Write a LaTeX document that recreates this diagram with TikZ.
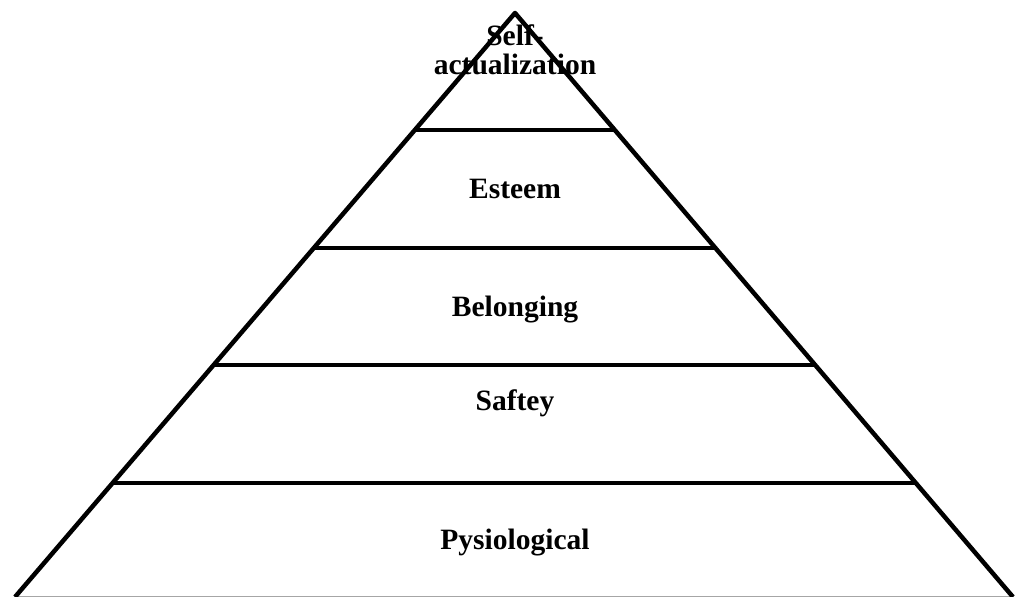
\documentclass[tikz,border=0pt]{standalone}
\usepackage{fontspec}
\setmainfont{Liberation Serif}
\usetikzlibrary{calc,positioning}
\tikzset{
  side/.style={line width=3.2pt, line join=round},
  tier/.style={line width=3.2pt},
  level/.style={font=\fontsize{21}{21.3}\selectfont\bfseries, align=center, inner sep=0pt, anchor=base}
}
\begin{document}
\begin{tikzpicture}[x=0.025cm, y=-0.025cm]
  \useasboundingbox (0,0) rectangle (1019,597);
  \coordinate (apex) at (515,13);
  \coordinate (bl) at (15,597);
  \coordinate (br) at (1013,597);
  % base and sides
  \draw[gray!70, line width=1.4pt] (bl) -- (br);
  \draw[side] (bl) -- (apex) -- (br);
  % dividing lines
  \foreach \y in {130,248,365,483} {
    \draw[tier] ($(apex)!{(\y-13)/584}!(bl)$) -- ($(apex)!{(\y-13)/584}!(br)$);
  }
  % labels
  \node[level] (self) at (515,75) {Self-\\actualization};
  \node[level] (esteem) at (515,199) {Esteem};
  \node[level] (belong) at (515,316) {Belonging};
  \node[level] (safety) at (515,410) {Saftey};
  \node[level] (physio) at (515,549) {Pysiological};
\end{tikzpicture}
\end{document}
